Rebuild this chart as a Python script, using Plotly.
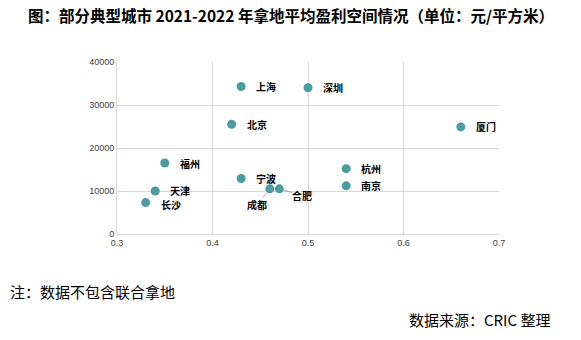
import plotly.graph_objects as go

# 2021-2022 land acquisition: average profit margin (x) vs. average profit per m² (y)
cities = ["上海", "深圳", "北京", "厦门", "福州", "杭州", "宁波", "南京", "成都", "合肥", "天津", "长沙"]
margin = [0.43, 0.50, 0.42, 0.66, 0.35, 0.54, 0.43, 0.54, 0.46, 0.47, 0.34, 0.33]
profit = [34300, 34000, 25500, 24900, 16500, 15200, 12900, 11200, 10500, 10500, 10000, 7300]

x_ticks = [0.3, 0.4, 0.5, 0.6, 0.7]
y_ticks = [0, 10000, 20000, 30000, 40000]

title_text = "图：部分典型城市 2021-2022 年拿地平均盈利空间情况（单位：元/平方米）"
note_text = "注：数据不包含联合拿地"
source_text = "数据来源：CRIC 整理"

CJK = "Noto Sans CJK SC"
MARKER = "#4a9ca0"
GRID = "#d9d9d9"

fig = go.Figure()
fig.add_trace(go.Scatter(
    x=margin, y=profit, mode="markers",
    marker=dict(size=9, color=MARKER),
    hoverinfo="skip", showlegend=False,
))

label_font = dict(family=CJK, size=10, color="#000000")
# small vertical nudges keep the two crowded labels apart
nudge = {"天津": 1, "长沙": -2}

# point labels: most sit to the right; 成都 and 合肥 use leader lines
annotations = []
for name, xv, yv in zip(cities, margin, profit):
    if name == "成都":
        annotations.append(dict(
            x=xv, y=yv, xref="x", yref="y", text="<b>%s</b>" % name,
            showarrow=True, arrowhead=0, arrowwidth=0.8, arrowcolor="#8c8c8c",
            ax=-13, ay=16, standoff=5, borderpad=0, font=label_font,
        ))
    elif name == "合肥":
        annotations.append(dict(
            x=xv, y=yv, xref="x", yref="y", text="<b>%s</b>" % name,
            showarrow=True, arrowhead=0, arrowwidth=0.8, arrowcolor="#8c8c8c",
            ax=23, ay=7, standoff=5, borderpad=0, font=label_font,
        ))
    else:
        annotations.append(dict(
            x=xv, y=yv, xref="x", yref="y", text="<b>%s</b>" % name,
            showarrow=False, xanchor="left", yanchor="middle", xshift=14,
            yshift=nudge.get(name, 0), borderpad=0, font=label_font,
        ))

annotations += [
    dict(x=291, y=340 - 15, xref="paper", yref="paper", text="<b>%s</b>" % title_text,
         showarrow=False, xanchor="center", yanchor="middle",
         font=dict(family=CJK, size=15.5, color="#000000")),
    dict(x=8, y=340 - 291, xref="paper", yref="paper", text=note_text,
         showarrow=False, xanchor="left", yanchor="middle",
         font=dict(family=CJK, size=15, color="#000000")),
    dict(x=552, y=340 - 319, xref="paper", yref="paper", text=source_text,
         showarrow=False, xanchor="right", yanchor="middle",
         font=dict(family=CJK, size=15, color="#000000")),
]

# convert paper-pixel positions of the text blocks into paper fractions
L, R, T, B = 117, 82, 62, 106
W, H = 581, 340
pw, ph = W - L - R, H - T - B
for a in annotations:
    if a["xref"] == "paper":
        a["x"] = (a["x"] - L) / pw
        a["y"] = (a["y"] - B) / ph

tick_font = dict(family="Liberation Sans", size=9, color="#404040")

fig.update_layout(
    width=W, height=H,
    margin=dict(l=L, r=R, t=T, b=B),
    paper_bgcolor="#ffffff", plot_bgcolor="#ffffff",
    annotations=annotations,
    xaxis=dict(
        range=[0.3, 0.7], tickvals=x_ticks, ticktext=[str(v) for v in x_ticks],
        showgrid=True, gridcolor=GRID, gridwidth=1, zeroline=False,
        showline=True, linecolor=GRID, linewidth=1, ticks="",
        tickfont=tick_font, fixedrange=True,
    ),
    yaxis=dict(
        range=[0, 40000], tickvals=y_ticks, ticktext=[str(v) for v in y_ticks],
        showgrid=True, gridcolor=GRID, gridwidth=1, zeroline=False,
        showline=True, linecolor=GRID, linewidth=1, ticks="",
        tickfont=tick_font, fixedrange=True,
    ),
)

fig.write_html("out.html", config={"displayModeBar": False})
